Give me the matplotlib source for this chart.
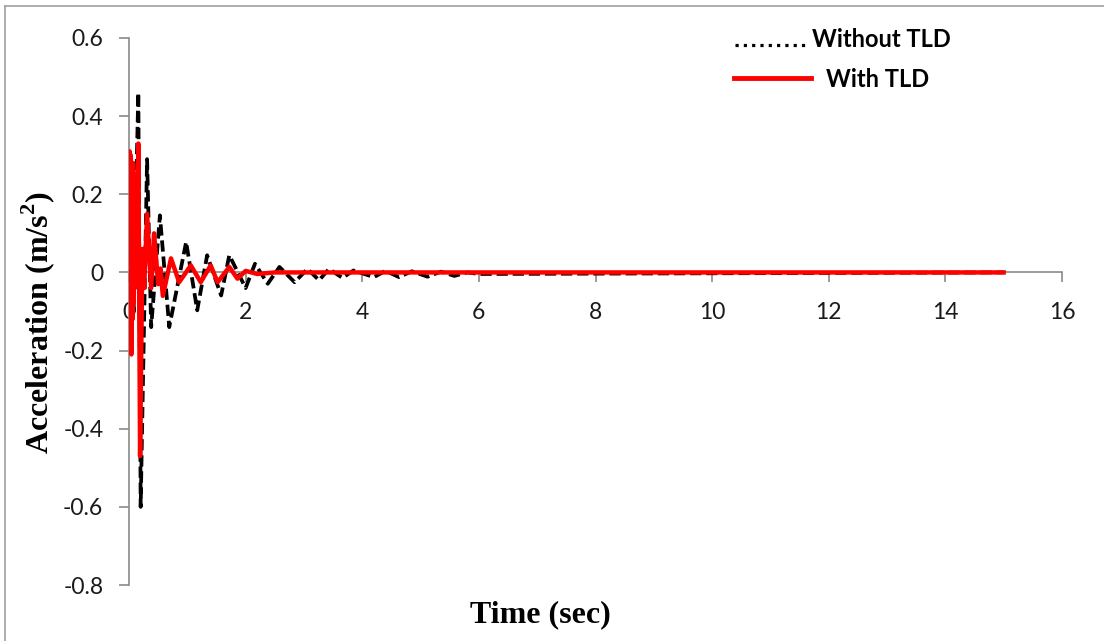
import matplotlib.pyplot as plt
from matplotlib.lines import Line2D

# fonts: Lato stands in for Calibri, Liberation Serif for Times
plt.rcParams['font.family'] = ['Lato', 'DejaVu Sans']
plt.rcParams['mathtext.fontset'] = 'custom'
plt.rcParams['mathtext.rm'] = 'Liberation Serif:bold'

# Response without the damper (dashed black)
time_without = [0.00, 0.04, 0.08, 0.12, 0.16, 0.20, 0.31, 0.38, 0.53, 0.69,
                0.98, 1.17, 1.34, 1.58, 1.72, 2.00, 2.16, 2.38, 2.58, 2.84,
                3.06, 3.26, 3.43, 3.66, 3.85, 4.20, 4.40, 4.63, 4.85, 5.12,
                5.35, 5.58, 5.80, 6.00, 15.00]
acc_without = [0.00, 0.12, -0.10, 0.20, 0.46, -0.60, 0.29, -0.14, 0.146, -0.14,
               0.078, -0.097, 0.044, -0.059, 0.044, -0.040, 0.022, -0.029, 0.014, -0.025,
               0.009, -0.020, 0.009, -0.014, 0.005, -0.012, 0.004, -0.012, 0.003, -0.011,
               0.002, -0.009, 0.000, -0.004, 0.000]

# Response with the tuned liquid damper (solid red)
time_with = [0.00, 0.01, 0.02, 0.03, 0.04, 0.05, 0.06, 0.07, 0.08, 0.09,
             0.10, 0.12, 0.14, 0.16, 0.19, 0.23, 0.26, 0.31, 0.38, 0.43,
             0.50, 0.54, 0.58, 0.72, 0.86, 1.06, 1.23, 1.40, 1.52, 1.72,
             1.86, 2.00, 2.20, 2.50, 15.00]
acc_with = [0.00, 0.31, -0.05, 0.30, -0.21, 0.26, -0.12, 0.28, -0.08, 0.22,
            -0.04, 0.25, 0.02, 0.33, -0.47, 0.06, -0.04, 0.15, -0.04, 0.10,
            -0.03, 0.01, -0.06, 0.036, -0.025, 0.018, -0.025, 0.018, -0.025, 0.014,
            -0.016, 0.004, -0.004, 0.000, 0.000]

xticks = [0, 2, 4, 6, 8, 10, 12, 14, 16]
yticks = [-0.8, -0.6, -0.4, -0.2, 0, 0.2, 0.4, 0.6]
ytick_labels = ['-0.8', '-0.6', '-0.4', '-0.2', '0', '0.2', '0.4', '0.6']

W, H = 1104, 641
fig = plt.figure(figsize=(W / 100, H / 100), dpi=100)
ax = fig.add_axes([129 / W, 1 - 585 / H, (1062 - 129) / W, (585 - 38) / H])

ax.plot(time_without, acc_without, color='black', lw=2.7,
        linestyle=(0, (3.0, 1.3)), zorder=3)
ax.plot(time_with, acc_with, color='#ff0000', lw=3.2, zorder=4)

ax.set_xlim(0, 16)
ax.set_ylim(-0.8, 0.6)
ax.set_xticks(xticks)
ax.set_yticks(yticks)
ax.set_yticklabels(ytick_labels)

# Excel style axes: x axis crosses at zero, no box
ax.spines['top'].set_visible(False)
ax.spines['right'].set_visible(False)
ax.spines['bottom'].set_position(('data', 0))
for s in ['left', 'bottom']:
    ax.spines[s].set_color('#8a8a8a')
    ax.spines[s].set_linewidth(1.2)
ax.tick_params(axis='both', direction='out', length=7.5, width=1.2,
               color='#8a8a8a', labelsize=16.5, labelcolor='#1a1a1a')
ax.tick_params(axis='x', pad=14)
ax.tick_params(axis='y', pad=11)

# axis titles
fig.text(38 / W, 1 - 323 / H, 'Acceleration (m/s$^{2}$)', rotation=90,
         ha='center', va='center', fontsize=23, fontweight='bold',
         family='Liberation Serif')
fig.text(540 / W, 1 - 615 / H, 'Time (sec)', ha='center', va='center',
         fontsize=23, fontweight='bold', family='Liberation Serif')

# hand made legend like the original
fig.add_artist(Line2D([735 / W, 806 / W], [1 - 45 / H, 1 - 45 / H],
                      color='black', lw=2.3, linestyle=(0, (1, 1.6)),
                      transform=fig.transFigure))
fig.text(812 / W, 1 - 47 / H, 'Without TLD', ha='left', va='baseline',
         fontsize=17, fontweight='bold')
fig.add_artist(Line2D([734 / W, 811 / W], [1 - 78 / H, 1 - 78 / H],
                      color='#ff0000', lw=3.5, transform=fig.transFigure))
fig.text(826 / W, 1 - 87 / H, 'With TLD', ha='left', va='baseline',
         fontsize=17, fontweight='bold')

# chart area frame (left and top edges show in the crop)
fig.add_artist(Line2D([5 / W, 5 / W], [0, 1 - 6 / H], color='#a0a0a0',
                      lw=1.2, transform=fig.transFigure))
fig.add_artist(Line2D([5 / W, 1], [1 - 6 / H, 1 - 6 / H], color='#a0a0a0',
                      lw=1.2, transform=fig.transFigure))

fig.savefig('out.png', dpi=100)
